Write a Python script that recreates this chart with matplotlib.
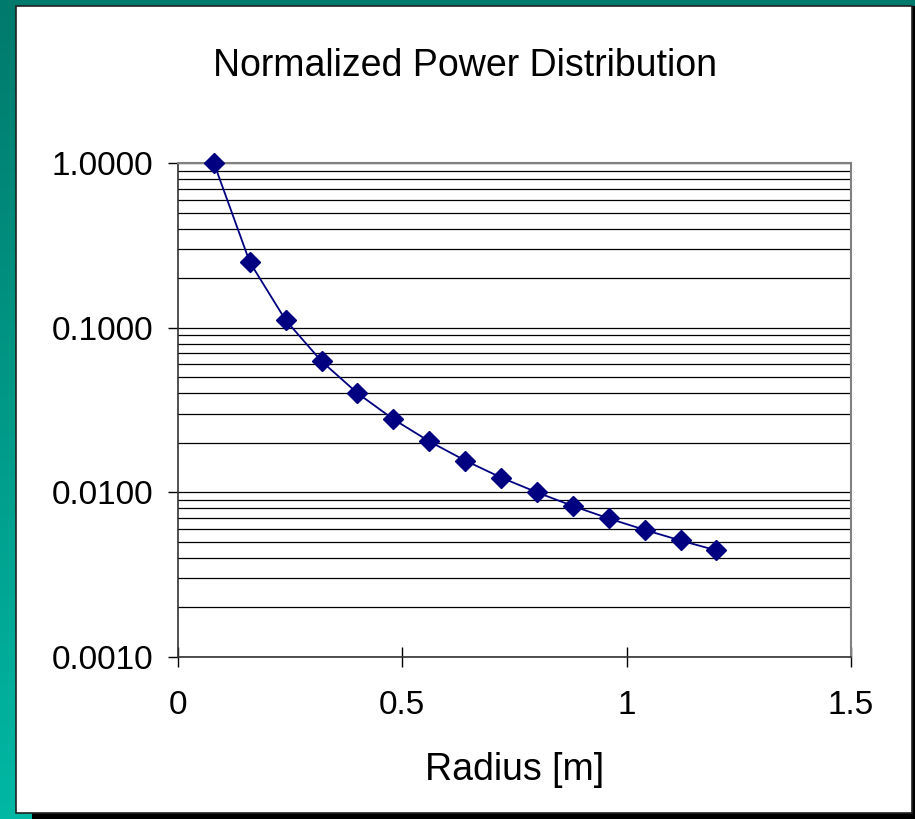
import numpy as np
import matplotlib
matplotlib.use("Agg")
import matplotlib.pyplot as plt
from matplotlib.patches import Rectangle
from matplotlib.ticker import LogLocator, FixedLocator, NullFormatter

plt.rcParams['font.family'] = ['Liberation Sans', 'DejaVu Sans']

# dane
radius = [0.08, 0.16, 0.24, 0.32, 0.40, 0.48, 0.56, 0.64, 0.72, 0.80,
          0.88, 0.96, 1.04, 1.12, 1.20]
power = [1.0, 0.25, 0.111, 0.0625, 0.04, 0.0278, 0.0204, 0.0156, 0.0123,
         0.0100, 0.00826, 0.00694, 0.00592, 0.0051, 0.00444]
x_ticks = [0, 0.5, 1, 1.5]
x_tick_labels = ["0", "0.5", "1", "1.5"]
y_ticks = [0.001, 0.01, 0.1, 1.0]
y_tick_labels = ["0.0010", "0.0100", "0.1000", "1.0000"]

W, H = 915, 819
fig = plt.figure(figsize=(W / 100, H / 100), dpi=100)

# tło - turkusowy gradient
bg = fig.add_axes([0, 0, 1, 1])
grad = np.linspace(0, 1, 256).reshape(-1, 1)
cmap = matplotlib.colors.LinearSegmentedColormap.from_list("teal", ["#007a6c", "#00b8a4"])
bg.imshow(grad, aspect="auto", cmap=cmap, extent=[0, W, H, 0])
bg.set_xlim(0, W)
bg.set_ylim(H, 0)
bg.axis("off")
# cień
bg.add_patch(Rectangle((32, 6), W - 32, H - 6, facecolor="black", edgecolor="none"))
# biały panel
bg.add_patch(Rectangle((16, 6), 896, 807, facecolor="white", edgecolor="#222222", linewidth=1.2))

ax = fig.add_axes([178 / W, 1 - 657 / H, (851 - 178) / W, (657 - 163) / H])
ax.set_facecolor("white")
ax.set_yscale("log")
ax.set_xlim(0, 1.5)
ax.set_ylim(0.001, 1.0)

# siatka - główne i pomocnicze linie
ax.yaxis.set_major_locator(FixedLocator(y_ticks))
ax.yaxis.set_minor_locator(LogLocator(base=10, subs=np.arange(2, 10)))
ax.yaxis.set_minor_formatter(NullFormatter())
ax.grid(True, which="both", axis="y", color="black", linewidth=0.9)
ax.set_yticks(y_ticks)
ax.set_yticklabels(y_tick_labels)
ax.set_xticks(x_ticks)
ax.set_xticklabels(x_tick_labels)
ax.tick_params(axis="y", which="major", direction="out", length=7, width=1, pad=11, labelsize=24)
ax.tick_params(axis="y", which="minor", length=0)
ax.tick_params(axis="x", which="major", direction="inout", length=14, width=1, pad=17, labelsize=24)

for s in ["top", "right"]:
    ax.spines[s].set_color("#808080")
    ax.spines[s].set_linewidth(1.5)
for s in ["left", "bottom"]:
    ax.spines[s].set_color("#333333")
    ax.spines[s].set_linewidth(1.2)

ax.plot(radius, power, color="#000080", linewidth=1.3, marker="D",
        markersize=10, markerfacecolor="#000080", markeredgecolor="#000080",
        clip_on=False, zorder=5)

ax.set_xlabel("Radius [m]", fontsize=27, labelpad=22)
fig.text(465 / W, 1 - 66 / H, "Normalized Power Distribution", fontsize=27,
         ha="center", va="center")

fig.savefig("out.png", dpi=100)
